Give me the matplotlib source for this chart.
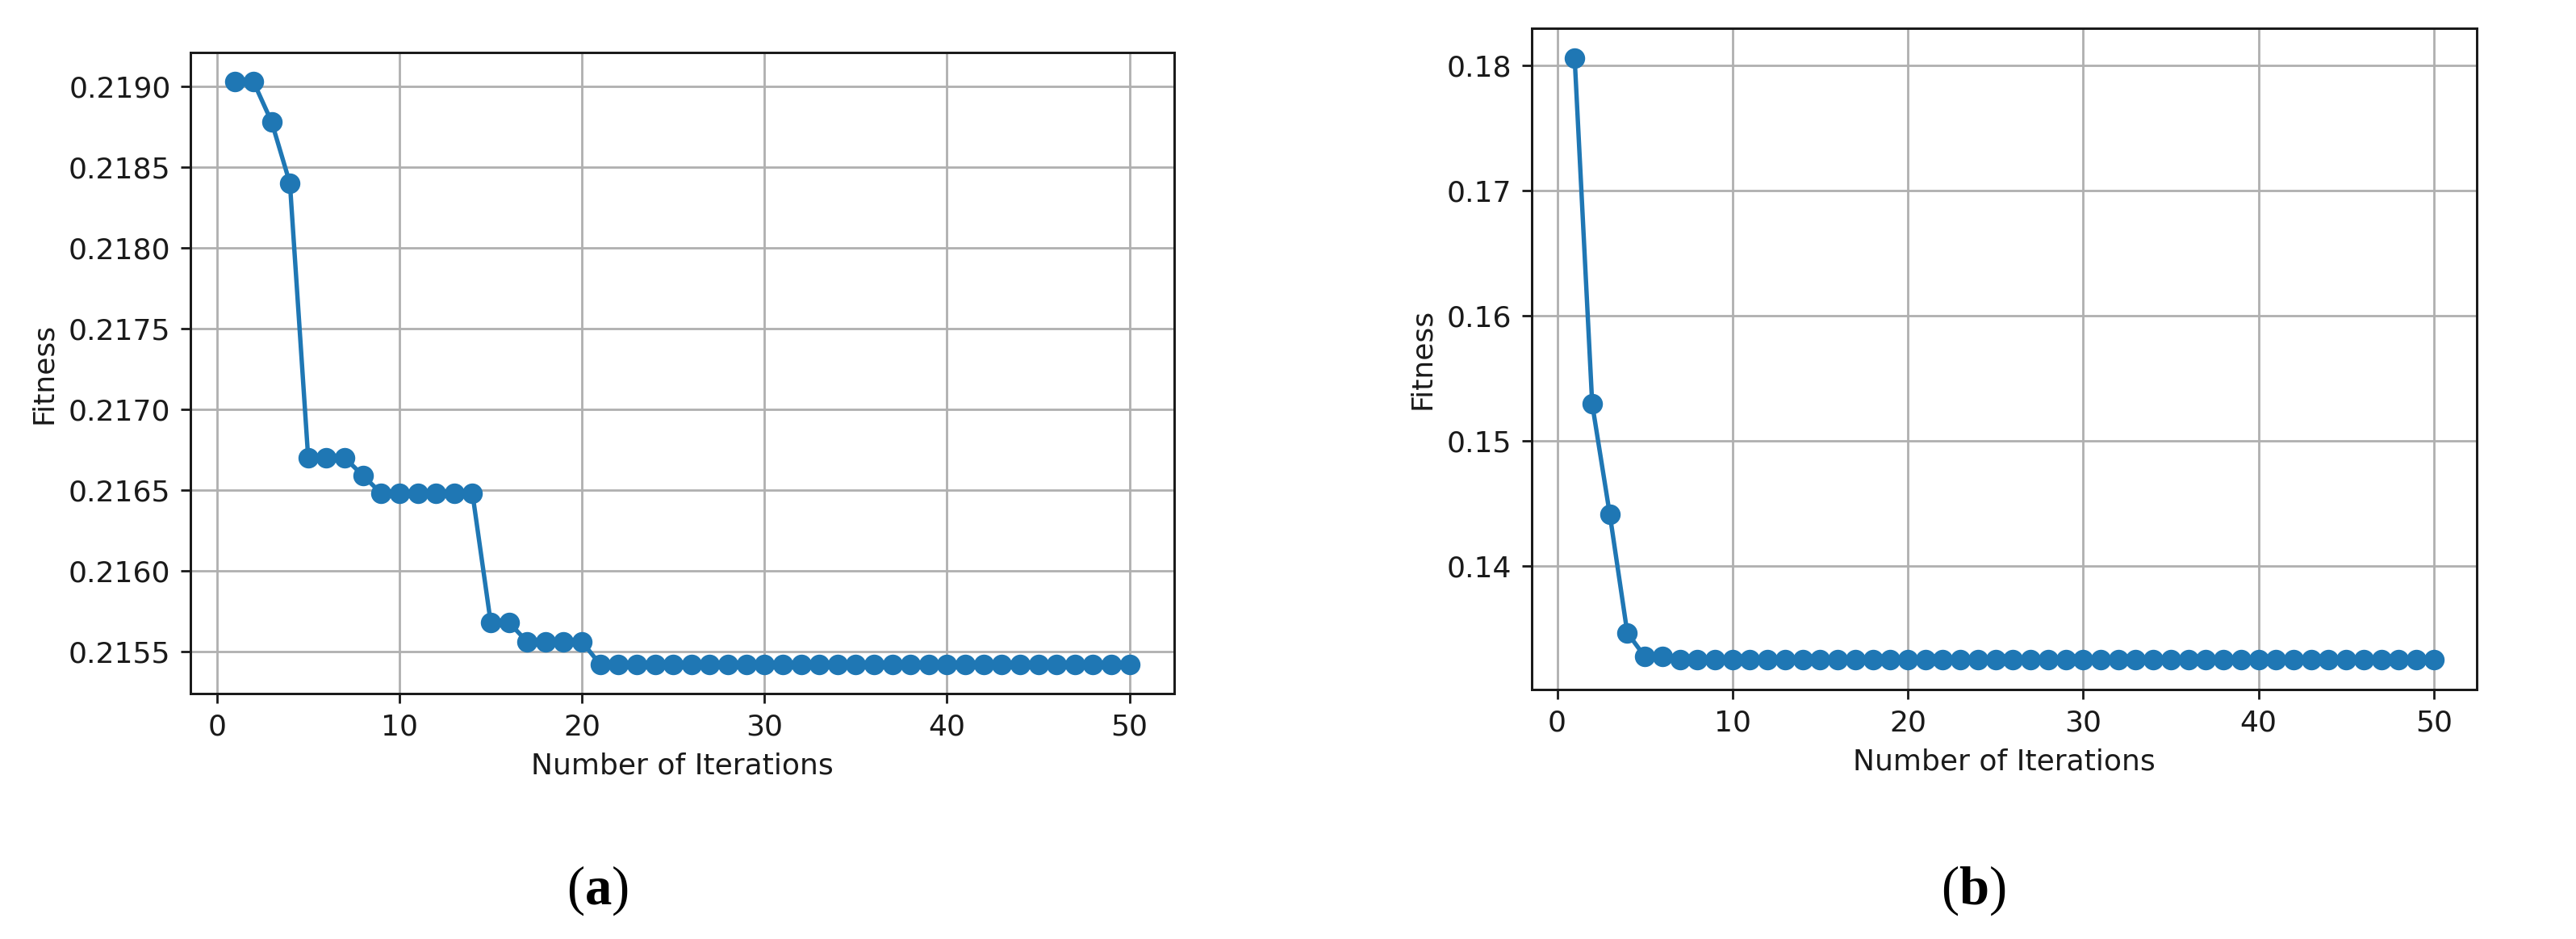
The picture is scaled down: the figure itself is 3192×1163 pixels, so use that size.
import matplotlib
matplotlib.use("Agg")
import matplotlib.pyplot as plt
from matplotlib.ticker import ScalarFormatter

# ---------------- data ----------------
iterations = list(range(1, 51))

fitness_a = [
    0.21903, 0.21903, 0.21878, 0.21840, 0.21670, 0.21670, 0.21670, 0.21659,
    0.21648, 0.21648, 0.21648, 0.21648, 0.21648, 0.21648,
    0.21568, 0.21568,
    0.21556, 0.21556, 0.21556, 0.21556,
    0.21542, 0.21542, 0.21542, 0.21542, 0.21542, 0.21542, 0.21542, 0.21542,
    0.21542, 0.21542, 0.21542, 0.21542, 0.21542, 0.21542, 0.21542, 0.21542,
    0.21542, 0.21542, 0.21542, 0.21542, 0.21542, 0.21542, 0.21542, 0.21542,
    0.21542, 0.21542, 0.21542, 0.21542, 0.21542, 0.21542,
]

fitness_b = [
    0.18054, 0.15293, 0.14414, 0.13466, 0.13275, 0.13275,
    0.13252, 0.13252, 0.13252, 0.13252, 0.13252, 0.13252, 0.13252, 0.13252,
    0.13252, 0.13252, 0.13252, 0.13252, 0.13252, 0.13252, 0.13252, 0.13252,
    0.13252, 0.13252, 0.13252, 0.13252, 0.13252, 0.13252, 0.13252, 0.13252,
    0.13252, 0.13252, 0.13252, 0.13252, 0.13252, 0.13252, 0.13252, 0.13252,
    0.13252, 0.13252, 0.13252, 0.13252, 0.13252, 0.13252, 0.13252, 0.13252,
    0.13252, 0.13252, 0.13252, 0.13252,
]

xlabel_text = "Number of Iterations"
ylabel_text = "Fitness"
panel_labels = [r"$(\mathbf{a})$", r"$(\mathbf{b})$"]

# ---------------- style ----------------
S = 2.52  # scale from original points to this canvas
FS = 26
plt.rcParams["font.family"] = ["DejaVu Sans"]
plt.rcParams["mathtext.fontset"] = "custom"
plt.rcParams["mathtext.rm"] = "Liberation Serif"
plt.rcParams["mathtext.bf"] = "Liberation Serif:bold"

W, H = 3192, 1163
fig = plt.figure(figsize=(W / 100, H / 100), dpi=100)

ax1 = fig.add_axes([236 / W, 1 - 859 / H, 1219 / W, 794 / H])
ax2 = fig.add_axes([1898 / W, 1 - 854 / H, 1171 / W, 819 / H])

for ax, vals in ((ax1, fitness_a), (ax2, fitness_b)):
    ax.plot(iterations, vals, color="#1f77b4", marker="o",
            linewidth=1.55 * S, markersize=17.3, zorder=3)
    ax.grid(True, color="#b0b0b0", linewidth=0.8 * S, zorder=0)
    ax.set_axisbelow(True)
    ax.set_xlabel(xlabel_text, fontsize=FS, labelpad=4 * S, color="#1a1a1a")
    ax.set_ylabel(ylabel_text, fontsize=FS, labelpad=4 * S, color="#1a1a1a")
    ax.tick_params(labelsize=FS, length=3.5 * S, width=0.8 * S,
                   pad=3.5 * S, colors="#1a1a1a")
    for sp in ax.spines.values():
        sp.set_linewidth(0.85 * S)
        sp.set_color("#1a1a1a")
    fmt = ScalarFormatter(useOffset=False)
    ax.yaxis.set_major_formatter(fmt)

ax1.set_xticks([0, 10, 20, 30, 40, 50])
ax2.set_xticks([0, 10, 20, 30, 40, 50])

fig.text(740 / W, 1 - 1103 / H, panel_labels[0], ha="center", va="center",
         fontsize=48)
fig.text(2445 / W, 1 - 1103 / H, panel_labels[1], ha="center", va="center",
         fontsize=48)

fig.savefig("out.png", dpi=100, facecolor="white")
